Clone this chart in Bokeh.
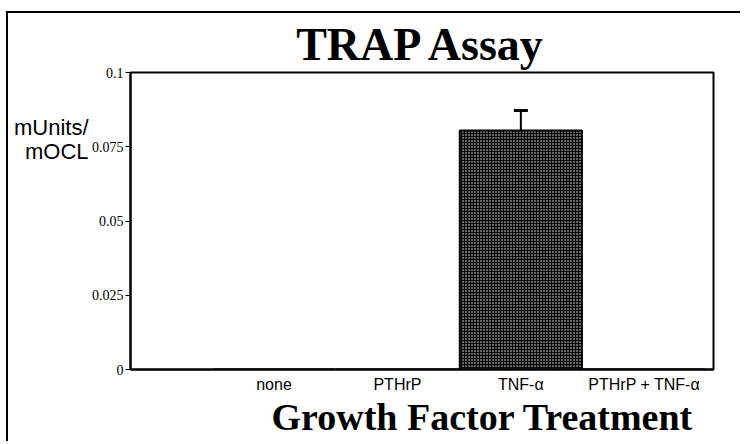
from bokeh.plotting import figure
from bokeh.models import (Range1d, FixedTicker, Whisker, TeeHead, ColumnDataSource,
                          LinearAxis, Title)
from bokeh.embed import file_html
from bokeh.resources import INLINE

# ---- data ----
categories = ["none", "PTHrP", "TNF-\u03b1", "PTHrP + TNF-\u03b1"]
values = [0.0, 0.0, 0.0805, 0.0]
errors = [0.0, 0.0, 0.0067, 0.0]
y_ticks = [0.0, 0.025, 0.05, 0.075, 0.1]
y_tick_labels = ["0", "0.025", "0.05", "0.075", "0.1"]
title_text = "TRAP Assay"
x_title = "Growth Factor Treatment"
y_title_lines = ["mUnits/", "mOCL"]

xs = list(range(len(categories)))

p = figure(width=734, height=430, output_backend="svg", toolbar_location=None,
           x_range=Range1d(-1.163, 3.561), y_range=Range1d(0, 0.1),
           min_border_left=122, min_border_right=29, min_border_top=59, min_border_bottom=74)
p.styles = {"border-left": "2px solid black", "border-top": "2px solid black",
            "margin-top": "11px", "margin-left": "6px"}

p.title.text = title_text
p.title.align = "center"
p.title.text_font = "Liberation Serif"
p.title.text_font_style = "bold"
p.title.text_font_size = "46px"
p.title.text_color = "black"
p.title.standoff = 6

p.xgrid.visible = False
p.ygrid.visible = False
p.outline_line_color = "black"
p.outline_line_width = 2
p.background_fill_color = "white"
p.border_fill_color = "white"

src = ColumnDataSource(dict(x=xs, top=values))
p.vbar(x="x", top="top", width=0.99, source=src, fill_color="#000000",
       line_color="black", line_width=2, hatch_pattern="dot", hatch_color="white",
       hatch_scale=3, hatch_weight=1)

err_idx = [i for i, e in enumerate(errors) if e > 0]
esrc = ColumnDataSource(dict(x=[xs[i] for i in err_idx],
                             upper=[values[i] + errors[i] for i in err_idx],
                             lower=[values[i] - errors[i] for i in err_idx]))
w = Whisker(base="x", upper="upper", lower="lower", source=esrc, line_width=2, line_color="black",
            upper_head=TeeHead(size=14, line_width=3, line_color="black"),
            lower_head=TeeHead(size=14, line_width=2, line_color="black"))
p.add_layout(w)

# y axis
p.yaxis.ticker = FixedTicker(ticks=y_ticks)
p.yaxis.major_label_overrides = {t: l for t, l in zip(y_ticks, y_tick_labels)}
p.yaxis.major_label_text_font = "Liberation Serif"
p.yaxis.major_label_text_font_size = "14px"
p.yaxis.major_label_text_color = "black"
p.yaxis.axis_line_width = 2
p.yaxis.axis_line_color = "black"
p.yaxis.major_tick_out = 5
p.yaxis.major_tick_in = 0
p.yaxis.major_tick_line_width = 1
p.yaxis.minor_tick_line_color = None
p.yaxis.major_label_standoff = 2

# x axis
p.xaxis.ticker = FixedTicker(ticks=xs)
p.xaxis.major_label_overrides = {x: c for x, c in zip(xs, categories)}
p.xaxis.major_label_text_font = "Liberation Sans"
p.xaxis.major_label_text_font_size = "16px"
p.xaxis.major_label_text_color = "black"
p.xaxis.axis_line_width = 2
p.xaxis.axis_line_color = "black"
p.xaxis.major_tick_line_color = None
p.xaxis.minor_tick_line_color = None
p.xaxis.major_label_standoff = 0

# y title: two horizontal lines as a label-only axis left of the value axis
y_title_pos = [0.0815, 0.0734]
title_axis = LinearAxis(ticker=FixedTicker(ticks=y_title_pos),
                        major_label_overrides={v: t for v, t in zip(y_title_pos, y_title_lines)},
                        axis_line_color=None, major_tick_line_color=None,
                        minor_tick_line_color=None, major_tick_in=0, major_tick_out=0,
                        major_label_standoff=0, major_label_text_font="Liberation Sans",
                        major_label_text_font_size="22px", major_label_text_color="black")
p.add_layout(title_axis, "left")

# x title
p.add_layout(Title(text=x_title, align="left", offset=141, text_font="Liberation Serif",
                   text_font_style="bold", text_font_size="38px", text_color="black",
                   standoff=-4), "below")

open("out.html", "w").write(file_html(p, INLINE))
